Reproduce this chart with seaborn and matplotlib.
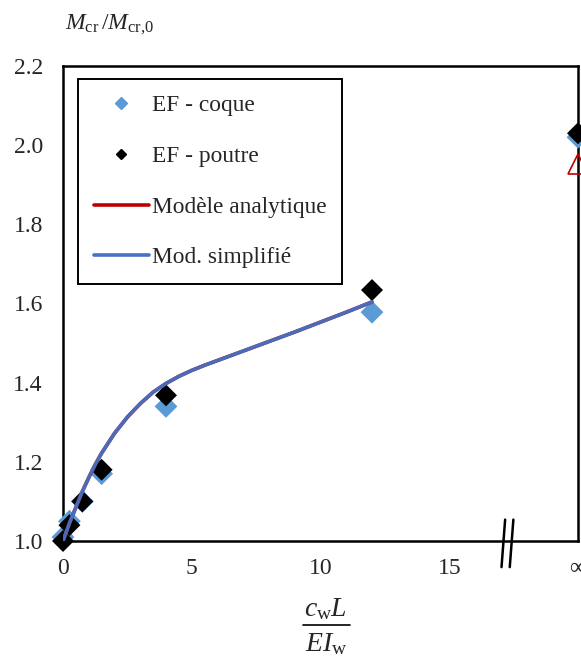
import matplotlib
matplotlib.use("Agg")
import matplotlib.pyplot as plt
import seaborn as sns
import pandas as pd
from matplotlib.lines import Line2D

# ---- data ----
x_coque = [0.0, 0.25, 0.75, 1.5, 4.0, 12.0, 20.0]
y_coque = [1.01, 1.05, 1.10, 1.17, 1.34, 1.578, 2.02]
x_poutre = [0.0, 0.25, 0.75, 1.5, 4.0, 12.0, 20.0]
y_poutre = [1.0, 1.04, 1.10, 1.18, 1.368, 1.634, 2.03]
x_model = [0.0, 0.25, 0.5, 0.75, 1.0, 1.25, 1.5, 2.0, 2.5, 3.0, 3.5, 4.0, 4.5, 5.0, 5.5, 6.0, 7.0, 8.0, 9.0, 10.0, 11.0, 12.0]
y_analytique = [1.0, 1.045, 1.085, 1.125, 1.16, 1.193, 1.222, 1.272, 1.313, 1.347, 1.376, 1.398, 1.416, 1.431, 1.444, 1.456, 1.48, 1.504, 1.528, 1.553, 1.578, 1.604]
y_simplifie = [1.0, 1.045, 1.085, 1.125, 1.16, 1.193, 1.222, 1.272, 1.313, 1.347, 1.376, 1.398, 1.416, 1.431, 1.444, 1.456, 1.48, 1.504, 1.528, 1.553, 1.578, 1.604]
x_inf = [20.0]
y_analytique_inf = [1.953]
x_ticks = [0, 5, 10, 15, 20]
x_ticklabels = ["0", "5", "10", "15", "\u221e"]
y_ticks = [1.0, 1.2, 1.4, 1.6, 1.8, 2.0, 2.2]
break_x = 17.1

sns.set_style("white")
plt.rcParams["font.family"] = ["Liberation Serif", "DejaVu Serif"]
plt.rcParams["mathtext.fontset"] = "custom"
plt.rcParams["mathtext.rm"] = "Liberation Serif"
plt.rcParams["mathtext.it"] = "Liberation Serif:italic"
plt.rcParams["mathtext.bf"] = "Liberation Serif:bold"

W, H = 581, 658
fig = plt.figure(figsize=(W/100, H/100), dpi=100)
ax = fig.add_axes([63/W, 1-541/H, (578-63)/W, (541-66)/H])

c_blue_m = "#5B9BD5"
c_line = "#4472C4"
c_red = "#C00000"

df_c = pd.DataFrame({"x": x_coque, "y": y_coque})
df_p = pd.DataFrame({"x": x_poutre, "y": y_poutre})
df_a = pd.DataFrame({"x": x_model, "y": y_analytique})
df_s = pd.DataFrame({"x": x_model, "y": y_simplifie})

sns.scatterplot(data=df_c, x="x", y="y", ax=ax, marker="D", s=135, color=c_blue_m,
                edgecolor="none", linewidth=0, clip_on=False, zorder=3)
sns.scatterplot(data=df_p, x="x", y="y", ax=ax, marker="D", s=125, color="black",
                edgecolor="none", linewidth=0, clip_on=False, zorder=4)
sns.lineplot(data=df_a, x="x", y="y", ax=ax, color=c_red, linewidth=2.6, zorder=5)
sns.lineplot(data=df_s, x="x", y="y", ax=ax, color=c_line, linewidth=2.6, alpha=0.95, zorder=6)
ax.plot(x_inf, y_analytique_inf, linestyle="none", marker="^", markersize=14,
        markerfacecolor="none", markeredgecolor=c_red, markeredgewidth=1.2,
        clip_on=False, zorder=5)

ax.set_xlim(0, 20)
ax.set_ylim(1.0, 2.2)
ax.set_xticks(x_ticks)
ax.set_xticklabels(x_ticklabels)
ax.set_yticks(y_ticks)
ax.set_yticklabels([f"{v:.1f}" for v in y_ticks])
ax.tick_params(axis="both", length=0, labelsize=17)
ax.tick_params(axis="y", pad=14.5)
ax.tick_params(axis="x", pad=12.5)
ax.set_xlabel("")
ax.set_ylabel("")
for s in ax.spines.values():
    s.set_visible(True)
    s.set_color("black")
    s.set_linewidth(1.8)

# axis break marks
trans = ax.get_xaxis_transform()
for dx in (0.0, 0.32):
    ax.plot([break_x + dx - 0.07, break_x + dx + 0.07], [-0.055, 0.045], transform=trans,
            color="black", linewidth=1.8, clip_on=False, zorder=7)

handles = [
    Line2D([], [], linestyle="none", marker="D", color=c_blue_m, markersize=6.5),
    Line2D([], [], linestyle="none", marker="D", color="black", markersize=5.5),
    Line2D([], [], color=c_red, linewidth=2.6),
    Line2D([], [], color=c_line, linewidth=2.6),
]
labels = ["EF - coque", "EF - poutre", "Mod\u00e8le analytique", "Mod. simplifi\u00e9"]
leg = ax.legend(handles, labels, loc="upper left", bbox_to_anchor=(15/515, (541-79)/475),
                fontsize=16.8, frameon=True, fancybox=False, framealpha=1,
                edgecolor="black", labelspacing=1.26, handlelength=2.36, handletextpad=0.13,
                borderpad=0.68, borderaxespad=0)
leg.get_frame().set_linewidth(1.4)

fig.text(65/W, 1-29/H, r"$M_{\rm cr}\,/M_{\rm cr{,}0}$", fontsize=17, va="baseline", ha="left")

# x label as a stacked fraction
fig.text(326/W, 1-616/H, r"$c_{\rm w}L$", fontsize=20, va="baseline", ha="center")
fig.add_artist(Line2D([303/W, 350/W], [1-625/H, 1-625/H], transform=fig.transFigure,
                      color="black", linewidth=1.2))
fig.text(326/W, 1-651/H, r"$EI_{\rm w}$", fontsize=20, va="baseline", ha="center")

fig.savefig("out.png", dpi=100)
